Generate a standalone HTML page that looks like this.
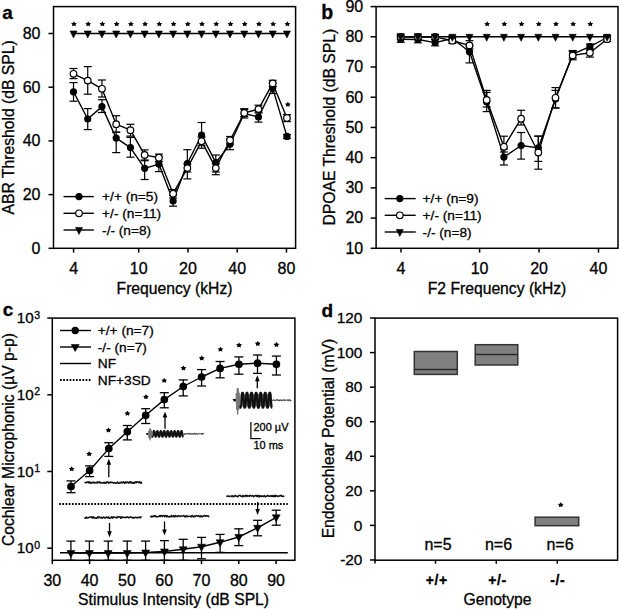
<!DOCTYPE html>
<html><head><meta charset="utf-8"><style>
html,body{margin:0;padding:0;background:#fff;}
svg{display:block;}
text{font-family:"Liberation Sans", sans-serif;fill:#000;stroke:#000;stroke-width:0.3px;}
</style></head><body>
<svg width="619" height="609" viewBox="0 0 619 609" font-family='"Liberation Sans", sans-serif'>
<rect width="619" height="609" fill="#fff"/>
<rect x="53.5" y="6.6" width="242.10000000000002" height="241.70000000000002" fill="none" stroke="#000" stroke-width="1.5"/>
<line x1="48.50" y1="248.30" x2="53.50" y2="248.30" stroke="#000" stroke-width="1.5" />
<text x="40.50" y="253.70" font-size="16" text-anchor="end" font-weight="normal" >0</text>
<line x1="48.50" y1="194.60" x2="53.50" y2="194.60" stroke="#000" stroke-width="1.5" />
<text x="40.50" y="200.00" font-size="16" text-anchor="end" font-weight="normal" >20</text>
<line x1="48.50" y1="140.90" x2="53.50" y2="140.90" stroke="#000" stroke-width="1.5" />
<text x="40.50" y="146.30" font-size="16" text-anchor="end" font-weight="normal" >40</text>
<line x1="48.50" y1="87.20" x2="53.50" y2="87.20" stroke="#000" stroke-width="1.5" />
<text x="40.50" y="92.60" font-size="16" text-anchor="end" font-weight="normal" >60</text>
<line x1="48.50" y1="33.50" x2="53.50" y2="33.50" stroke="#000" stroke-width="1.5" />
<text x="40.50" y="38.90" font-size="16" text-anchor="end" font-weight="normal" >80</text>
<line x1="73.60" y1="248.30" x2="73.60" y2="252.60" stroke="#000" stroke-width="1.5" />
<text x="73.60" y="274.00" font-size="16" text-anchor="middle" font-weight="normal" >4</text>
<line x1="138.70" y1="248.30" x2="138.70" y2="252.60" stroke="#000" stroke-width="1.5" />
<text x="138.70" y="274.00" font-size="16" text-anchor="middle" font-weight="normal" >10</text>
<line x1="187.95" y1="248.30" x2="187.95" y2="252.60" stroke="#000" stroke-width="1.5" />
<text x="187.95" y="274.00" font-size="16" text-anchor="middle" font-weight="normal" >20</text>
<line x1="237.20" y1="248.30" x2="237.20" y2="252.60" stroke="#000" stroke-width="1.5" />
<text x="237.20" y="274.00" font-size="16" text-anchor="middle" font-weight="normal" >40</text>
<line x1="286.45" y1="248.30" x2="286.45" y2="252.60" stroke="#000" stroke-width="1.5" />
<text x="286.45" y="274.00" font-size="16" text-anchor="middle" font-weight="normal" >80</text>
<text x="174.55" y="293.60" font-size="15.7" text-anchor="middle" font-weight="normal" >Frequency (kHz)</text>
<text transform="translate(14,127.4) rotate(-90)" font-size="15.7" text-anchor="middle">ABR Threshold (dB SPL)</text>
<text x="2.30" y="19.00" font-size="19" text-anchor="start" font-weight="bold" >a</text>
<polyline points="73.50,33.50 87.73,33.50 101.96,33.50 116.19,33.50 130.42,33.50 144.65,33.50 158.88,33.50 173.11,33.50 187.34,33.50 201.57,33.50 215.80,33.50 230.03,33.50 244.26,33.50 258.49,33.50 272.72,33.50 286.95,33.50" fill="none" stroke="#000" stroke-width="1.4" stroke-linejoin="round"/>
<polygon points="70.00,30.98 77.00,30.98 73.50,37.98" fill="#000" stroke="#000" stroke-width="0.6" stroke-linejoin="round"/>
<polygon points="73.95,21.35 74.94,22.88 76.85,23.25 75.55,24.57 75.74,26.32 73.95,25.61 72.16,26.32 72.35,24.57 71.05,23.25 72.96,22.88" fill="#000"/>
<polygon points="84.23,30.98 91.23,30.98 87.73,37.98" fill="#000" stroke="#000" stroke-width="0.6" stroke-linejoin="round"/>
<polygon points="88.18,21.35 89.17,22.88 91.08,23.25 89.78,24.57 89.97,26.32 88.18,25.61 86.39,26.32 86.58,24.57 85.28,23.25 87.19,22.88" fill="#000"/>
<polygon points="98.46,30.98 105.46,30.98 101.96,37.98" fill="#000" stroke="#000" stroke-width="0.6" stroke-linejoin="round"/>
<polygon points="102.41,21.35 103.40,22.88 105.31,23.25 104.01,24.57 104.20,26.32 102.41,25.61 100.62,26.32 100.81,24.57 99.51,23.25 101.42,22.88" fill="#000"/>
<polygon points="112.69,30.98 119.69,30.98 116.19,37.98" fill="#000" stroke="#000" stroke-width="0.6" stroke-linejoin="round"/>
<polygon points="116.64,21.35 117.63,22.88 119.54,23.25 118.24,24.57 118.43,26.32 116.64,25.61 114.85,26.32 115.04,24.57 113.74,23.25 115.65,22.88" fill="#000"/>
<polygon points="126.92,30.98 133.92,30.98 130.42,37.98" fill="#000" stroke="#000" stroke-width="0.6" stroke-linejoin="round"/>
<polygon points="130.87,21.35 131.86,22.88 133.77,23.25 132.47,24.57 132.66,26.32 130.87,25.61 129.08,26.32 129.27,24.57 127.97,23.25 129.88,22.88" fill="#000"/>
<polygon points="141.15,30.98 148.15,30.98 144.65,37.98" fill="#000" stroke="#000" stroke-width="0.6" stroke-linejoin="round"/>
<polygon points="145.10,21.35 146.09,22.88 148.00,23.25 146.70,24.57 146.89,26.32 145.10,25.61 143.31,26.32 143.50,24.57 142.20,23.25 144.11,22.88" fill="#000"/>
<polygon points="155.38,30.98 162.38,30.98 158.88,37.98" fill="#000" stroke="#000" stroke-width="0.6" stroke-linejoin="round"/>
<polygon points="159.33,21.35 160.32,22.88 162.23,23.25 160.93,24.57 161.12,26.32 159.33,25.61 157.54,26.32 157.73,24.57 156.43,23.25 158.34,22.88" fill="#000"/>
<polygon points="169.61,30.98 176.61,30.98 173.11,37.98" fill="#000" stroke="#000" stroke-width="0.6" stroke-linejoin="round"/>
<polygon points="173.56,21.35 174.55,22.88 176.46,23.25 175.16,24.57 175.35,26.32 173.56,25.61 171.77,26.32 171.96,24.57 170.66,23.25 172.57,22.88" fill="#000"/>
<polygon points="183.84,30.98 190.84,30.98 187.34,37.98" fill="#000" stroke="#000" stroke-width="0.6" stroke-linejoin="round"/>
<polygon points="187.79,21.35 188.78,22.88 190.69,23.25 189.39,24.57 189.58,26.32 187.79,25.61 186.00,26.32 186.19,24.57 184.89,23.25 186.80,22.88" fill="#000"/>
<polygon points="198.07,30.98 205.07,30.98 201.57,37.98" fill="#000" stroke="#000" stroke-width="0.6" stroke-linejoin="round"/>
<polygon points="202.02,21.35 203.01,22.88 204.92,23.25 203.62,24.57 203.81,26.32 202.02,25.61 200.23,26.32 200.42,24.57 199.12,23.25 201.03,22.88" fill="#000"/>
<polygon points="212.30,30.98 219.30,30.98 215.80,37.98" fill="#000" stroke="#000" stroke-width="0.6" stroke-linejoin="round"/>
<polygon points="216.25,21.35 217.24,22.88 219.15,23.25 217.85,24.57 218.04,26.32 216.25,25.61 214.46,26.32 214.65,24.57 213.35,23.25 215.26,22.88" fill="#000"/>
<polygon points="226.53,30.98 233.53,30.98 230.03,37.98" fill="#000" stroke="#000" stroke-width="0.6" stroke-linejoin="round"/>
<polygon points="230.48,21.35 231.47,22.88 233.38,23.25 232.08,24.57 232.27,26.32 230.48,25.61 228.69,26.32 228.88,24.57 227.58,23.25 229.49,22.88" fill="#000"/>
<polygon points="240.76,30.98 247.76,30.98 244.26,37.98" fill="#000" stroke="#000" stroke-width="0.6" stroke-linejoin="round"/>
<polygon points="244.71,21.35 245.70,22.88 247.61,23.25 246.31,24.57 246.50,26.32 244.71,25.61 242.92,26.32 243.11,24.57 241.81,23.25 243.72,22.88" fill="#000"/>
<polygon points="254.99,30.98 261.99,30.98 258.49,37.98" fill="#000" stroke="#000" stroke-width="0.6" stroke-linejoin="round"/>
<polygon points="258.94,21.35 259.93,22.88 261.84,23.25 260.54,24.57 260.73,26.32 258.94,25.61 257.15,26.32 257.34,24.57 256.04,23.25 257.95,22.88" fill="#000"/>
<polygon points="269.22,30.98 276.22,30.98 272.72,37.98" fill="#000" stroke="#000" stroke-width="0.6" stroke-linejoin="round"/>
<polygon points="273.17,21.35 274.16,22.88 276.07,23.25 274.77,24.57 274.96,26.32 273.17,25.61 271.38,26.32 271.57,24.57 270.27,23.25 272.18,22.88" fill="#000"/>
<polygon points="283.45,30.98 290.45,30.98 286.95,37.98" fill="#000" stroke="#000" stroke-width="0.6" stroke-linejoin="round"/>
<polygon points="287.40,21.35 288.39,22.88 290.30,23.25 289.00,24.57 289.19,26.32 287.40,25.61 285.61,26.32 285.80,24.57 284.50,23.25 286.41,22.88" fill="#000"/>
<line x1="73.50" y1="82.60" x2="73.50" y2="101.20" stroke="#000" stroke-width="1.2" />
<line x1="69.50" y1="82.60" x2="77.50" y2="82.60" stroke="#000" stroke-width="1.2" />
<line x1="69.50" y1="101.20" x2="77.50" y2="101.20" stroke="#000" stroke-width="1.2" />
<line x1="87.73" y1="108.60" x2="87.73" y2="129.60" stroke="#000" stroke-width="1.2" />
<line x1="83.73" y1="108.60" x2="91.73" y2="108.60" stroke="#000" stroke-width="1.2" />
<line x1="83.73" y1="129.60" x2="91.73" y2="129.60" stroke="#000" stroke-width="1.2" />
<line x1="101.96" y1="99.70" x2="101.96" y2="112.50" stroke="#000" stroke-width="1.2" />
<line x1="97.96" y1="99.70" x2="105.96" y2="99.70" stroke="#000" stroke-width="1.2" />
<line x1="97.96" y1="112.50" x2="105.96" y2="112.50" stroke="#000" stroke-width="1.2" />
<line x1="116.19" y1="132.20" x2="116.19" y2="152.60" stroke="#000" stroke-width="1.2" />
<line x1="112.19" y1="132.20" x2="120.19" y2="132.20" stroke="#000" stroke-width="1.2" />
<line x1="112.19" y1="152.60" x2="120.19" y2="152.60" stroke="#000" stroke-width="1.2" />
<line x1="130.42" y1="137.40" x2="130.42" y2="157.20" stroke="#000" stroke-width="1.2" />
<line x1="126.42" y1="137.40" x2="134.42" y2="137.40" stroke="#000" stroke-width="1.2" />
<line x1="126.42" y1="157.20" x2="134.42" y2="157.20" stroke="#000" stroke-width="1.2" />
<line x1="144.65" y1="160.70" x2="144.65" y2="179.50" stroke="#000" stroke-width="1.2" />
<line x1="140.65" y1="160.70" x2="148.65" y2="160.70" stroke="#000" stroke-width="1.2" />
<line x1="140.65" y1="179.50" x2="148.65" y2="179.50" stroke="#000" stroke-width="1.2" />
<line x1="158.88" y1="156.50" x2="158.88" y2="171.60" stroke="#000" stroke-width="1.2" />
<line x1="154.88" y1="156.50" x2="162.88" y2="156.50" stroke="#000" stroke-width="1.2" />
<line x1="154.88" y1="171.60" x2="162.88" y2="171.60" stroke="#000" stroke-width="1.2" />
<line x1="173.11" y1="195.50" x2="173.11" y2="206.20" stroke="#000" stroke-width="1.2" />
<line x1="169.11" y1="195.50" x2="177.11" y2="195.50" stroke="#000" stroke-width="1.2" />
<line x1="169.11" y1="206.20" x2="177.11" y2="206.20" stroke="#000" stroke-width="1.2" />
<line x1="187.34" y1="149.70" x2="187.34" y2="178.90" stroke="#000" stroke-width="1.2" />
<line x1="183.34" y1="149.70" x2="191.34" y2="149.70" stroke="#000" stroke-width="1.2" />
<line x1="183.34" y1="178.90" x2="191.34" y2="178.90" stroke="#000" stroke-width="1.2" />
<line x1="201.57" y1="122.50" x2="201.57" y2="148.20" stroke="#000" stroke-width="1.2" />
<line x1="197.57" y1="122.50" x2="205.57" y2="122.50" stroke="#000" stroke-width="1.2" />
<line x1="197.57" y1="148.20" x2="205.57" y2="148.20" stroke="#000" stroke-width="1.2" />
<line x1="215.80" y1="155.00" x2="215.80" y2="174.70" stroke="#000" stroke-width="1.2" />
<line x1="211.80" y1="155.00" x2="219.80" y2="155.00" stroke="#000" stroke-width="1.2" />
<line x1="211.80" y1="174.70" x2="219.80" y2="174.70" stroke="#000" stroke-width="1.2" />
<line x1="230.03" y1="139.00" x2="230.03" y2="149.70" stroke="#000" stroke-width="1.2" />
<line x1="226.03" y1="139.00" x2="234.03" y2="139.00" stroke="#000" stroke-width="1.2" />
<line x1="226.03" y1="149.70" x2="234.03" y2="149.70" stroke="#000" stroke-width="1.2" />
<line x1="244.26" y1="108.70" x2="244.26" y2="118.00" stroke="#000" stroke-width="1.2" />
<line x1="240.26" y1="108.70" x2="248.26" y2="108.70" stroke="#000" stroke-width="1.2" />
<line x1="240.26" y1="118.00" x2="248.26" y2="118.00" stroke="#000" stroke-width="1.2" />
<line x1="258.49" y1="112.00" x2="258.49" y2="122.10" stroke="#000" stroke-width="1.2" />
<line x1="254.49" y1="112.00" x2="262.49" y2="112.00" stroke="#000" stroke-width="1.2" />
<line x1="254.49" y1="122.10" x2="262.49" y2="122.10" stroke="#000" stroke-width="1.2" />
<line x1="272.72" y1="83.00" x2="272.72" y2="93.50" stroke="#000" stroke-width="1.2" />
<line x1="268.72" y1="83.00" x2="276.72" y2="83.00" stroke="#000" stroke-width="1.2" />
<line x1="268.72" y1="93.50" x2="276.72" y2="93.50" stroke="#000" stroke-width="1.2" />
<line x1="286.95" y1="134.50" x2="286.95" y2="138.50" stroke="#000" stroke-width="1.2" />
<line x1="282.95" y1="134.50" x2="290.95" y2="134.50" stroke="#000" stroke-width="1.2" />
<line x1="282.95" y1="138.50" x2="290.95" y2="138.50" stroke="#000" stroke-width="1.2" />
<line x1="73.50" y1="68.50" x2="73.50" y2="78.60" stroke="#000" stroke-width="1.2" />
<line x1="69.50" y1="68.50" x2="77.50" y2="68.50" stroke="#000" stroke-width="1.2" />
<line x1="69.50" y1="78.60" x2="77.50" y2="78.60" stroke="#000" stroke-width="1.2" />
<line x1="87.73" y1="66.60" x2="87.73" y2="94.20" stroke="#000" stroke-width="1.2" />
<line x1="83.73" y1="66.60" x2="91.73" y2="66.60" stroke="#000" stroke-width="1.2" />
<line x1="83.73" y1="94.20" x2="91.73" y2="94.20" stroke="#000" stroke-width="1.2" />
<line x1="101.96" y1="80.00" x2="101.96" y2="97.00" stroke="#000" stroke-width="1.2" />
<line x1="97.96" y1="80.00" x2="105.96" y2="80.00" stroke="#000" stroke-width="1.2" />
<line x1="97.96" y1="97.00" x2="105.96" y2="97.00" stroke="#000" stroke-width="1.2" />
<line x1="116.19" y1="115.70" x2="116.19" y2="132.20" stroke="#000" stroke-width="1.2" />
<line x1="112.19" y1="115.70" x2="120.19" y2="115.70" stroke="#000" stroke-width="1.2" />
<line x1="112.19" y1="132.20" x2="120.19" y2="132.20" stroke="#000" stroke-width="1.2" />
<line x1="130.42" y1="124.30" x2="130.42" y2="136.10" stroke="#000" stroke-width="1.2" />
<line x1="126.42" y1="124.30" x2="134.42" y2="124.30" stroke="#000" stroke-width="1.2" />
<line x1="126.42" y1="136.10" x2="134.42" y2="136.10" stroke="#000" stroke-width="1.2" />
<line x1="144.65" y1="149.90" x2="144.65" y2="160.00" stroke="#000" stroke-width="1.2" />
<line x1="140.65" y1="149.90" x2="148.65" y2="149.90" stroke="#000" stroke-width="1.2" />
<line x1="140.65" y1="160.00" x2="148.65" y2="160.00" stroke="#000" stroke-width="1.2" />
<line x1="158.88" y1="154.10" x2="158.88" y2="161.50" stroke="#000" stroke-width="1.2" />
<line x1="154.88" y1="154.10" x2="162.88" y2="154.10" stroke="#000" stroke-width="1.2" />
<line x1="154.88" y1="161.50" x2="162.88" y2="161.50" stroke="#000" stroke-width="1.2" />
<line x1="173.11" y1="189.50" x2="173.11" y2="198.00" stroke="#000" stroke-width="1.2" />
<line x1="169.11" y1="189.50" x2="177.11" y2="189.50" stroke="#000" stroke-width="1.2" />
<line x1="169.11" y1="198.00" x2="177.11" y2="198.00" stroke="#000" stroke-width="1.2" />
<line x1="187.34" y1="164.00" x2="187.34" y2="172.00" stroke="#000" stroke-width="1.2" />
<line x1="183.34" y1="164.00" x2="191.34" y2="164.00" stroke="#000" stroke-width="1.2" />
<line x1="183.34" y1="172.00" x2="191.34" y2="172.00" stroke="#000" stroke-width="1.2" />
<line x1="201.57" y1="137.00" x2="201.57" y2="145.50" stroke="#000" stroke-width="1.2" />
<line x1="197.57" y1="137.00" x2="205.57" y2="137.00" stroke="#000" stroke-width="1.2" />
<line x1="197.57" y1="145.50" x2="205.57" y2="145.50" stroke="#000" stroke-width="1.2" />
<line x1="215.80" y1="164.00" x2="215.80" y2="172.00" stroke="#000" stroke-width="1.2" />
<line x1="211.80" y1="164.00" x2="219.80" y2="164.00" stroke="#000" stroke-width="1.2" />
<line x1="211.80" y1="172.00" x2="219.80" y2="172.00" stroke="#000" stroke-width="1.2" />
<line x1="230.03" y1="136.50" x2="230.03" y2="144.00" stroke="#000" stroke-width="1.2" />
<line x1="226.03" y1="136.50" x2="234.03" y2="136.50" stroke="#000" stroke-width="1.2" />
<line x1="226.03" y1="144.00" x2="234.03" y2="144.00" stroke="#000" stroke-width="1.2" />
<line x1="244.26" y1="109.50" x2="244.26" y2="116.50" stroke="#000" stroke-width="1.2" />
<line x1="240.26" y1="109.50" x2="248.26" y2="109.50" stroke="#000" stroke-width="1.2" />
<line x1="240.26" y1="116.50" x2="248.26" y2="116.50" stroke="#000" stroke-width="1.2" />
<line x1="258.49" y1="105.20" x2="258.49" y2="113.00" stroke="#000" stroke-width="1.2" />
<line x1="254.49" y1="105.20" x2="262.49" y2="105.20" stroke="#000" stroke-width="1.2" />
<line x1="254.49" y1="113.00" x2="262.49" y2="113.00" stroke="#000" stroke-width="1.2" />
<line x1="272.72" y1="80.30" x2="272.72" y2="86.50" stroke="#000" stroke-width="1.2" />
<line x1="268.72" y1="80.30" x2="276.72" y2="80.30" stroke="#000" stroke-width="1.2" />
<line x1="268.72" y1="86.50" x2="276.72" y2="86.50" stroke="#000" stroke-width="1.2" />
<line x1="286.95" y1="114.60" x2="286.95" y2="121.60" stroke="#000" stroke-width="1.2" />
<line x1="282.95" y1="114.60" x2="290.95" y2="114.60" stroke="#000" stroke-width="1.2" />
<line x1="282.95" y1="121.60" x2="290.95" y2="121.60" stroke="#000" stroke-width="1.2" />
<polyline points="73.50,91.80 87.73,119.00 101.96,106.60 116.19,138.10 130.42,147.60 144.65,168.30 158.88,164.10 173.11,201.00 187.34,163.50 201.57,135.00 215.80,162.60 230.03,144.20 244.26,113.50 258.49,117.00 272.72,88.10 286.95,136.40" fill="none" stroke="#000" stroke-width="1.4" stroke-linejoin="round"/>
<polyline points="73.50,73.80 87.73,80.60 101.96,88.80 116.19,124.20 130.42,130.20 144.65,154.90 158.88,157.70 173.11,193.70 187.34,168.10 201.57,141.20 215.80,168.10 230.03,140.30 244.26,113.00 258.49,109.10 272.72,83.40 286.95,118.00" fill="none" stroke="#000" stroke-width="1.4" stroke-linejoin="round"/>
<circle cx="73.50" cy="91.80" r="3.0" fill="#000" stroke="#000" stroke-width="1.2"/>
<circle cx="87.73" cy="119.00" r="3.0" fill="#000" stroke="#000" stroke-width="1.2"/>
<circle cx="101.96" cy="106.60" r="3.0" fill="#000" stroke="#000" stroke-width="1.2"/>
<circle cx="116.19" cy="138.10" r="3.0" fill="#000" stroke="#000" stroke-width="1.2"/>
<circle cx="130.42" cy="147.60" r="3.0" fill="#000" stroke="#000" stroke-width="1.2"/>
<circle cx="144.65" cy="168.30" r="3.0" fill="#000" stroke="#000" stroke-width="1.2"/>
<circle cx="158.88" cy="164.10" r="3.0" fill="#000" stroke="#000" stroke-width="1.2"/>
<circle cx="173.11" cy="201.00" r="3.0" fill="#000" stroke="#000" stroke-width="1.2"/>
<circle cx="187.34" cy="163.50" r="3.0" fill="#000" stroke="#000" stroke-width="1.2"/>
<circle cx="201.57" cy="135.00" r="3.0" fill="#000" stroke="#000" stroke-width="1.2"/>
<circle cx="215.80" cy="162.60" r="3.0" fill="#000" stroke="#000" stroke-width="1.2"/>
<circle cx="230.03" cy="144.20" r="3.0" fill="#000" stroke="#000" stroke-width="1.2"/>
<circle cx="244.26" cy="113.50" r="3.0" fill="#000" stroke="#000" stroke-width="1.2"/>
<circle cx="258.49" cy="117.00" r="3.0" fill="#000" stroke="#000" stroke-width="1.2"/>
<circle cx="272.72" cy="88.10" r="3.0" fill="#000" stroke="#000" stroke-width="1.2"/>
<circle cx="286.95" cy="136.40" r="3.0" fill="#000" stroke="#000" stroke-width="1.2"/>
<circle cx="73.50" cy="73.80" r="3.3" fill="#fff" stroke="#000" stroke-width="1.2"/>
<circle cx="87.73" cy="80.60" r="3.3" fill="#fff" stroke="#000" stroke-width="1.2"/>
<circle cx="101.96" cy="88.80" r="3.3" fill="#fff" stroke="#000" stroke-width="1.2"/>
<circle cx="116.19" cy="124.20" r="3.3" fill="#fff" stroke="#000" stroke-width="1.2"/>
<circle cx="130.42" cy="130.20" r="3.3" fill="#fff" stroke="#000" stroke-width="1.2"/>
<circle cx="144.65" cy="154.90" r="3.3" fill="#fff" stroke="#000" stroke-width="1.2"/>
<circle cx="158.88" cy="157.70" r="3.3" fill="#fff" stroke="#000" stroke-width="1.2"/>
<circle cx="173.11" cy="193.70" r="3.3" fill="#fff" stroke="#000" stroke-width="1.2"/>
<circle cx="187.34" cy="168.10" r="3.3" fill="#fff" stroke="#000" stroke-width="1.2"/>
<circle cx="201.57" cy="141.20" r="3.3" fill="#fff" stroke="#000" stroke-width="1.2"/>
<circle cx="215.80" cy="168.10" r="3.3" fill="#fff" stroke="#000" stroke-width="1.2"/>
<circle cx="230.03" cy="140.30" r="3.3" fill="#fff" stroke="#000" stroke-width="1.2"/>
<circle cx="244.26" cy="113.00" r="3.3" fill="#fff" stroke="#000" stroke-width="1.2"/>
<circle cx="258.49" cy="109.10" r="3.3" fill="#fff" stroke="#000" stroke-width="1.2"/>
<circle cx="272.72" cy="83.40" r="3.3" fill="#fff" stroke="#000" stroke-width="1.2"/>
<circle cx="286.95" cy="118.00" r="3.3" fill="#fff" stroke="#000" stroke-width="1.2"/>
<polygon points="287.85,101.75 288.84,103.28 290.75,103.65 289.45,104.97 289.64,106.72 287.85,106.01 286.06,106.72 286.25,104.97 284.95,103.65 286.86,103.28" fill="#000"/>
<line x1="63.50" y1="196.60" x2="93.80" y2="196.60" stroke="#000" stroke-width="1.4" />
<circle cx="79.00" cy="196.60" r="3.0" fill="#000" stroke="#000" stroke-width="1.2"/>
<text x="102.10" y="201.30" font-size="13.7" text-anchor="start" font-weight="normal" >+/+ (n=5)</text>
<line x1="63.50" y1="213.30" x2="93.80" y2="213.30" stroke="#000" stroke-width="1.4" />
<circle cx="79.00" cy="213.30" r="3.3" fill="#fff" stroke="#000" stroke-width="1.2"/>
<text x="102.10" y="218.00" font-size="13.7" text-anchor="start" font-weight="normal" >+/- (n=11)</text>
<line x1="63.50" y1="230.00" x2="93.80" y2="230.00" stroke="#000" stroke-width="1.4" />
<polygon points="75.50,227.48 82.50,227.48 79.00,234.48" fill="#000" stroke="#000" stroke-width="0.6" stroke-linejoin="round"/>
<text x="102.10" y="234.70" font-size="13.7" text-anchor="start" font-weight="normal" >-/- (n=8)</text>
<rect x="376.1" y="6.6" width="241.89999999999998" height="241.70000000000002" fill="none" stroke="#000" stroke-width="1.5"/>
<line x1="370.60" y1="248.30" x2="376.10" y2="248.30" stroke="#000" stroke-width="1.5" />
<text x="363.20" y="253.70" font-size="16" text-anchor="end" font-weight="normal" >10</text>
<line x1="370.60" y1="218.09" x2="376.10" y2="218.09" stroke="#000" stroke-width="1.5" />
<text x="363.20" y="223.49" font-size="16" text-anchor="end" font-weight="normal" >20</text>
<line x1="370.60" y1="187.88" x2="376.10" y2="187.88" stroke="#000" stroke-width="1.5" />
<text x="363.20" y="193.28" font-size="16" text-anchor="end" font-weight="normal" >30</text>
<line x1="370.60" y1="157.66" x2="376.10" y2="157.66" stroke="#000" stroke-width="1.5" />
<text x="363.20" y="163.06" font-size="16" text-anchor="end" font-weight="normal" >40</text>
<line x1="370.60" y1="127.45" x2="376.10" y2="127.45" stroke="#000" stroke-width="1.5" />
<text x="363.20" y="132.85" font-size="16" text-anchor="end" font-weight="normal" >50</text>
<line x1="370.60" y1="97.24" x2="376.10" y2="97.24" stroke="#000" stroke-width="1.5" />
<text x="363.20" y="102.64" font-size="16" text-anchor="end" font-weight="normal" >60</text>
<line x1="370.60" y1="67.02" x2="376.10" y2="67.02" stroke="#000" stroke-width="1.5" />
<text x="363.20" y="72.42" font-size="16" text-anchor="end" font-weight="normal" >70</text>
<line x1="370.60" y1="36.81" x2="376.10" y2="36.81" stroke="#000" stroke-width="1.5" />
<text x="363.20" y="42.21" font-size="16" text-anchor="end" font-weight="normal" >80</text>
<line x1="370.60" y1="6.60" x2="376.10" y2="6.60" stroke="#000" stroke-width="1.5" />
<text x="363.20" y="12.00" font-size="16" text-anchor="end" font-weight="normal" >90</text>
<line x1="401.00" y1="248.30" x2="401.00" y2="252.60" stroke="#000" stroke-width="1.5" />
<text x="401.00" y="274.00" font-size="16" text-anchor="middle" font-weight="normal" >4</text>
<line x1="479.59" y1="248.30" x2="479.59" y2="252.60" stroke="#000" stroke-width="1.5" />
<text x="479.59" y="274.00" font-size="16" text-anchor="middle" font-weight="normal" >10</text>
<line x1="539.05" y1="248.30" x2="539.05" y2="252.60" stroke="#000" stroke-width="1.5" />
<text x="539.05" y="274.00" font-size="16" text-anchor="middle" font-weight="normal" >20</text>
<line x1="598.50" y1="248.30" x2="598.50" y2="252.60" stroke="#000" stroke-width="1.5" />
<text x="598.50" y="274.00" font-size="16" text-anchor="middle" font-weight="normal" >40</text>
<text x="497.05" y="293.60" font-size="15.7" text-anchor="middle" font-weight="normal" >F2 Frequency (kHz)</text>
<text transform="translate(334.8,127.2) rotate(-90)" font-size="15.7" text-anchor="middle">DPOAE Threshold (dB SPL)</text>
<text x="321.30" y="18.50" font-size="19.5" text-anchor="start" font-weight="bold" >b</text>
<polygon points="487.15,21.35 488.14,22.88 490.05,23.25 488.75,24.57 488.94,26.32 487.15,25.61 485.36,26.32 485.55,24.57 484.25,23.25 486.16,22.88" fill="#000"/>
<polygon points="504.35,21.35 505.34,22.88 507.25,23.25 505.95,24.57 506.14,26.32 504.35,25.61 502.56,26.32 502.75,24.57 501.45,23.25 503.36,22.88" fill="#000"/>
<polygon points="521.55,21.35 522.54,22.88 524.45,23.25 523.15,24.57 523.34,26.32 521.55,25.61 519.76,26.32 519.95,24.57 518.65,23.25 520.56,22.88" fill="#000"/>
<polygon points="538.75,21.35 539.74,22.88 541.65,23.25 540.35,24.57 540.54,26.32 538.75,25.61 536.96,26.32 537.15,24.57 535.85,23.25 537.76,22.88" fill="#000"/>
<polygon points="555.95,21.35 556.94,22.88 558.85,23.25 557.55,24.57 557.74,26.32 555.95,25.61 554.16,26.32 554.35,24.57 553.05,23.25 554.96,22.88" fill="#000"/>
<polygon points="573.15,21.35 574.14,22.88 576.05,23.25 574.75,24.57 574.94,26.32 573.15,25.61 571.36,26.32 571.55,24.57 570.25,23.25 572.16,22.88" fill="#000"/>
<polygon points="590.35,21.35 591.34,22.88 593.25,23.25 591.95,24.57 592.14,26.32 590.35,25.61 588.56,26.32 588.75,24.57 587.45,23.25 589.36,22.88" fill="#000"/>
<line x1="400.70" y1="36.00" x2="400.70" y2="42.30" stroke="#000" stroke-width="1.2" />
<line x1="396.70" y1="36.00" x2="404.70" y2="36.00" stroke="#000" stroke-width="1.2" />
<line x1="396.70" y1="42.30" x2="404.70" y2="42.30" stroke="#000" stroke-width="1.2" />
<line x1="417.90" y1="36.50" x2="417.90" y2="42.80" stroke="#000" stroke-width="1.2" />
<line x1="413.90" y1="36.50" x2="421.90" y2="36.50" stroke="#000" stroke-width="1.2" />
<line x1="413.90" y1="42.80" x2="421.90" y2="42.80" stroke="#000" stroke-width="1.2" />
<line x1="435.10" y1="39.80" x2="435.10" y2="45.80" stroke="#000" stroke-width="1.2" />
<line x1="431.10" y1="39.80" x2="439.10" y2="39.80" stroke="#000" stroke-width="1.2" />
<line x1="431.10" y1="45.80" x2="439.10" y2="45.80" stroke="#000" stroke-width="1.2" />
<line x1="452.30" y1="36.00" x2="452.30" y2="41.00" stroke="#000" stroke-width="1.2" />
<line x1="448.30" y1="36.00" x2="456.30" y2="36.00" stroke="#000" stroke-width="1.2" />
<line x1="448.30" y1="41.00" x2="456.30" y2="41.00" stroke="#000" stroke-width="1.2" />
<line x1="469.50" y1="46.00" x2="469.50" y2="62.90" stroke="#000" stroke-width="1.2" />
<line x1="465.50" y1="46.00" x2="473.50" y2="46.00" stroke="#000" stroke-width="1.2" />
<line x1="465.50" y1="62.90" x2="473.50" y2="62.90" stroke="#000" stroke-width="1.2" />
<line x1="486.70" y1="90.40" x2="486.70" y2="111.60" stroke="#000" stroke-width="1.2" />
<line x1="482.70" y1="90.40" x2="490.70" y2="90.40" stroke="#000" stroke-width="1.2" />
<line x1="482.70" y1="111.60" x2="490.70" y2="111.60" stroke="#000" stroke-width="1.2" />
<line x1="503.90" y1="149.00" x2="503.90" y2="165.00" stroke="#000" stroke-width="1.2" />
<line x1="499.90" y1="149.00" x2="507.90" y2="149.00" stroke="#000" stroke-width="1.2" />
<line x1="499.90" y1="165.00" x2="507.90" y2="165.00" stroke="#000" stroke-width="1.2" />
<line x1="521.10" y1="132.50" x2="521.10" y2="159.10" stroke="#000" stroke-width="1.2" />
<line x1="517.10" y1="132.50" x2="525.10" y2="132.50" stroke="#000" stroke-width="1.2" />
<line x1="517.10" y1="159.10" x2="525.10" y2="159.10" stroke="#000" stroke-width="1.2" />
<line x1="538.30" y1="136.30" x2="538.30" y2="161.40" stroke="#000" stroke-width="1.2" />
<line x1="534.30" y1="136.30" x2="542.30" y2="136.30" stroke="#000" stroke-width="1.2" />
<line x1="534.30" y1="161.40" x2="542.30" y2="161.40" stroke="#000" stroke-width="1.2" />
<line x1="555.50" y1="90.40" x2="555.50" y2="108.00" stroke="#000" stroke-width="1.2" />
<line x1="551.50" y1="90.40" x2="559.50" y2="90.40" stroke="#000" stroke-width="1.2" />
<line x1="551.50" y1="108.00" x2="559.50" y2="108.00" stroke="#000" stroke-width="1.2" />
<line x1="572.70" y1="50.50" x2="572.70" y2="58.00" stroke="#000" stroke-width="1.2" />
<line x1="568.70" y1="50.50" x2="576.70" y2="50.50" stroke="#000" stroke-width="1.2" />
<line x1="568.70" y1="58.00" x2="576.70" y2="58.00" stroke="#000" stroke-width="1.2" />
<line x1="589.90" y1="44.00" x2="589.90" y2="50.00" stroke="#000" stroke-width="1.2" />
<line x1="585.90" y1="44.00" x2="593.90" y2="44.00" stroke="#000" stroke-width="1.2" />
<line x1="585.90" y1="50.00" x2="593.90" y2="50.00" stroke="#000" stroke-width="1.2" />
<line x1="607.10" y1="35.50" x2="607.10" y2="39.50" stroke="#000" stroke-width="1.2" />
<line x1="603.10" y1="35.50" x2="611.10" y2="35.50" stroke="#000" stroke-width="1.2" />
<line x1="603.10" y1="39.50" x2="611.10" y2="39.50" stroke="#000" stroke-width="1.2" />
<line x1="400.70" y1="34.00" x2="400.70" y2="39.00" stroke="#000" stroke-width="1.2" />
<line x1="396.70" y1="34.00" x2="404.70" y2="34.00" stroke="#000" stroke-width="1.2" />
<line x1="396.70" y1="39.00" x2="404.70" y2="39.00" stroke="#000" stroke-width="1.2" />
<line x1="417.90" y1="34.00" x2="417.90" y2="39.00" stroke="#000" stroke-width="1.2" />
<line x1="413.90" y1="34.00" x2="421.90" y2="34.00" stroke="#000" stroke-width="1.2" />
<line x1="413.90" y1="39.00" x2="421.90" y2="39.00" stroke="#000" stroke-width="1.2" />
<line x1="435.10" y1="34.50" x2="435.10" y2="39.50" stroke="#000" stroke-width="1.2" />
<line x1="431.10" y1="34.50" x2="439.10" y2="34.50" stroke="#000" stroke-width="1.2" />
<line x1="431.10" y1="39.50" x2="439.10" y2="39.50" stroke="#000" stroke-width="1.2" />
<line x1="452.30" y1="38.00" x2="452.30" y2="43.50" stroke="#000" stroke-width="1.2" />
<line x1="448.30" y1="38.00" x2="456.30" y2="38.00" stroke="#000" stroke-width="1.2" />
<line x1="448.30" y1="43.50" x2="456.30" y2="43.50" stroke="#000" stroke-width="1.2" />
<line x1="469.50" y1="40.70" x2="469.50" y2="49.00" stroke="#000" stroke-width="1.2" />
<line x1="465.50" y1="40.70" x2="473.50" y2="40.70" stroke="#000" stroke-width="1.2" />
<line x1="465.50" y1="49.00" x2="473.50" y2="49.00" stroke="#000" stroke-width="1.2" />
<line x1="486.70" y1="92.40" x2="486.70" y2="107.00" stroke="#000" stroke-width="1.2" />
<line x1="482.70" y1="92.40" x2="490.70" y2="92.40" stroke="#000" stroke-width="1.2" />
<line x1="482.70" y1="107.00" x2="490.70" y2="107.00" stroke="#000" stroke-width="1.2" />
<line x1="503.90" y1="136.20" x2="503.90" y2="152.00" stroke="#000" stroke-width="1.2" />
<line x1="499.90" y1="136.20" x2="507.90" y2="136.20" stroke="#000" stroke-width="1.2" />
<line x1="499.90" y1="152.00" x2="507.90" y2="152.00" stroke="#000" stroke-width="1.2" />
<line x1="521.10" y1="110.30" x2="521.10" y2="125.00" stroke="#000" stroke-width="1.2" />
<line x1="517.10" y1="110.30" x2="525.10" y2="110.30" stroke="#000" stroke-width="1.2" />
<line x1="517.10" y1="125.00" x2="525.10" y2="125.00" stroke="#000" stroke-width="1.2" />
<line x1="538.30" y1="136.00" x2="538.30" y2="169.20" stroke="#000" stroke-width="1.2" />
<line x1="534.30" y1="136.00" x2="542.30" y2="136.00" stroke="#000" stroke-width="1.2" />
<line x1="534.30" y1="169.20" x2="542.30" y2="169.20" stroke="#000" stroke-width="1.2" />
<line x1="555.50" y1="87.60" x2="555.50" y2="108.00" stroke="#000" stroke-width="1.2" />
<line x1="551.50" y1="87.60" x2="559.50" y2="87.60" stroke="#000" stroke-width="1.2" />
<line x1="551.50" y1="108.00" x2="559.50" y2="108.00" stroke="#000" stroke-width="1.2" />
<line x1="572.70" y1="51.30" x2="572.70" y2="59.80" stroke="#000" stroke-width="1.2" />
<line x1="568.70" y1="51.30" x2="576.70" y2="51.30" stroke="#000" stroke-width="1.2" />
<line x1="568.70" y1="59.80" x2="576.70" y2="59.80" stroke="#000" stroke-width="1.2" />
<line x1="589.90" y1="49.00" x2="589.90" y2="57.10" stroke="#000" stroke-width="1.2" />
<line x1="585.90" y1="49.00" x2="593.90" y2="49.00" stroke="#000" stroke-width="1.2" />
<line x1="585.90" y1="57.10" x2="593.90" y2="57.10" stroke="#000" stroke-width="1.2" />
<line x1="607.10" y1="37.00" x2="607.10" y2="41.50" stroke="#000" stroke-width="1.2" />
<line x1="603.10" y1="37.00" x2="611.10" y2="37.00" stroke="#000" stroke-width="1.2" />
<line x1="603.10" y1="41.50" x2="611.10" y2="41.50" stroke="#000" stroke-width="1.2" />
<polyline points="400.70,39.20 417.90,39.50 435.10,42.60 452.30,38.50 469.50,51.80 486.70,102.00 503.90,157.10 521.10,145.50 538.30,147.90 555.50,99.00 572.70,54.20 589.90,46.60 607.10,37.50" fill="none" stroke="#000" stroke-width="1.4" stroke-linejoin="round"/>
<polyline points="400.70,37.00 417.90,37.00 435.10,36.90 452.30,40.70 469.50,45.40 486.70,100.00 503.90,146.80 521.10,118.70 538.30,152.50 555.50,97.80 572.70,55.40 589.90,52.80 607.10,39.20" fill="none" stroke="#000" stroke-width="1.4" stroke-linejoin="round"/>
<polyline points="400.70,36.81 417.90,36.81 435.10,36.81 452.30,36.81 469.50,36.81 486.70,36.81 503.90,36.81 521.10,36.81 538.30,36.81 555.50,36.81 572.70,36.81 589.90,36.81 607.10,36.81" fill="none" stroke="#000" stroke-width="1.4" stroke-linejoin="round"/>
<circle cx="400.70" cy="39.20" r="3.0" fill="#000" stroke="#000" stroke-width="1.2"/>
<circle cx="417.90" cy="39.50" r="3.0" fill="#000" stroke="#000" stroke-width="1.2"/>
<circle cx="435.10" cy="42.60" r="3.0" fill="#000" stroke="#000" stroke-width="1.2"/>
<circle cx="452.30" cy="38.50" r="3.0" fill="#000" stroke="#000" stroke-width="1.2"/>
<circle cx="469.50" cy="51.80" r="3.0" fill="#000" stroke="#000" stroke-width="1.2"/>
<circle cx="486.70" cy="102.00" r="3.0" fill="#000" stroke="#000" stroke-width="1.2"/>
<circle cx="503.90" cy="157.10" r="3.0" fill="#000" stroke="#000" stroke-width="1.2"/>
<circle cx="521.10" cy="145.50" r="3.0" fill="#000" stroke="#000" stroke-width="1.2"/>
<circle cx="538.30" cy="147.90" r="3.0" fill="#000" stroke="#000" stroke-width="1.2"/>
<circle cx="555.50" cy="99.00" r="3.0" fill="#000" stroke="#000" stroke-width="1.2"/>
<circle cx="572.70" cy="54.20" r="3.0" fill="#000" stroke="#000" stroke-width="1.2"/>
<circle cx="589.90" cy="46.60" r="3.0" fill="#000" stroke="#000" stroke-width="1.2"/>
<circle cx="607.10" cy="37.50" r="3.0" fill="#000" stroke="#000" stroke-width="1.2"/>
<circle cx="400.70" cy="37.00" r="3.3" fill="#fff" stroke="#000" stroke-width="1.2"/>
<circle cx="417.90" cy="37.00" r="3.3" fill="#fff" stroke="#000" stroke-width="1.2"/>
<circle cx="435.10" cy="36.90" r="3.3" fill="#fff" stroke="#000" stroke-width="1.2"/>
<circle cx="452.30" cy="40.70" r="3.3" fill="#fff" stroke="#000" stroke-width="1.2"/>
<circle cx="469.50" cy="45.40" r="3.3" fill="#fff" stroke="#000" stroke-width="1.2"/>
<circle cx="486.70" cy="100.00" r="3.3" fill="#fff" stroke="#000" stroke-width="1.2"/>
<circle cx="503.90" cy="146.80" r="3.3" fill="#fff" stroke="#000" stroke-width="1.2"/>
<circle cx="521.10" cy="118.70" r="3.3" fill="#fff" stroke="#000" stroke-width="1.2"/>
<circle cx="538.30" cy="152.50" r="3.3" fill="#fff" stroke="#000" stroke-width="1.2"/>
<circle cx="555.50" cy="97.80" r="3.3" fill="#fff" stroke="#000" stroke-width="1.2"/>
<circle cx="572.70" cy="55.40" r="3.3" fill="#fff" stroke="#000" stroke-width="1.2"/>
<circle cx="589.90" cy="52.80" r="3.3" fill="#fff" stroke="#000" stroke-width="1.2"/>
<circle cx="607.10" cy="39.20" r="3.3" fill="#fff" stroke="#000" stroke-width="1.2"/>
<polygon points="397.20,34.29 404.20,34.29 400.70,41.29" fill="#000" stroke="#000" stroke-width="0.6" stroke-linejoin="round"/>
<polygon points="414.40,34.29 421.40,34.29 417.90,41.29" fill="#000" stroke="#000" stroke-width="0.6" stroke-linejoin="round"/>
<polygon points="431.60,34.29 438.60,34.29 435.10,41.29" fill="#000" stroke="#000" stroke-width="0.6" stroke-linejoin="round"/>
<polygon points="448.80,34.29 455.80,34.29 452.30,41.29" fill="#000" stroke="#000" stroke-width="0.6" stroke-linejoin="round"/>
<polygon points="466.00,34.29 473.00,34.29 469.50,41.29" fill="#000" stroke="#000" stroke-width="0.6" stroke-linejoin="round"/>
<polygon points="483.20,34.29 490.20,34.29 486.70,41.29" fill="#000" stroke="#000" stroke-width="0.6" stroke-linejoin="round"/>
<polygon points="500.40,34.29 507.40,34.29 503.90,41.29" fill="#000" stroke="#000" stroke-width="0.6" stroke-linejoin="round"/>
<polygon points="517.60,34.29 524.60,34.29 521.10,41.29" fill="#000" stroke="#000" stroke-width="0.6" stroke-linejoin="round"/>
<polygon points="534.80,34.29 541.80,34.29 538.30,41.29" fill="#000" stroke="#000" stroke-width="0.6" stroke-linejoin="round"/>
<polygon points="552.00,34.29 559.00,34.29 555.50,41.29" fill="#000" stroke="#000" stroke-width="0.6" stroke-linejoin="round"/>
<polygon points="569.20,34.29 576.20,34.29 572.70,41.29" fill="#000" stroke="#000" stroke-width="0.6" stroke-linejoin="round"/>
<polygon points="586.40,34.29 593.40,34.29 589.90,41.29" fill="#000" stroke="#000" stroke-width="0.6" stroke-linejoin="round"/>
<polygon points="603.60,34.29 610.60,34.29 607.10,41.29" fill="#000" stroke="#000" stroke-width="0.6" stroke-linejoin="round"/>
<line x1="384.70" y1="198.60" x2="415.70" y2="198.60" stroke="#000" stroke-width="1.4" />
<circle cx="399.80" cy="198.60" r="3.0" fill="#000" stroke="#000" stroke-width="1.2"/>
<text x="422.60" y="203.30" font-size="13.7" text-anchor="start" font-weight="normal" >+/+ (n=9)</text>
<line x1="384.70" y1="215.30" x2="415.70" y2="215.30" stroke="#000" stroke-width="1.4" />
<circle cx="399.80" cy="215.30" r="3.3" fill="#fff" stroke="#000" stroke-width="1.2"/>
<text x="422.60" y="220.00" font-size="13.7" text-anchor="start" font-weight="normal" >+/- (n=11)</text>
<line x1="384.70" y1="232.00" x2="415.70" y2="232.00" stroke="#000" stroke-width="1.4" />
<polygon points="396.30,229.48 403.30,229.48 399.80,236.48" fill="#000" stroke="#000" stroke-width="0.6" stroke-linejoin="round"/>
<text x="422.60" y="236.70" font-size="13.7" text-anchor="start" font-weight="normal" >-/- (n=8)</text>
<rect x="52.3" y="318.1" width="242.59999999999997" height="242.19999999999993" fill="none" stroke="#000" stroke-width="1.5"/>
<line x1="47.30" y1="548.20" x2="52.30" y2="548.20" stroke="#000" stroke-width="1.5" />
<text x="33.7" y="553.30" font-size="15.2" text-anchor="end">10</text>
<text x="34.3" y="548.60" font-size="10.5" text-anchor="start">0</text>
<line x1="47.30" y1="471.50" x2="52.30" y2="471.50" stroke="#000" stroke-width="1.5" />
<text x="33.7" y="476.60" font-size="15.2" text-anchor="end">10</text>
<text x="34.3" y="471.90" font-size="10.5" text-anchor="start">1</text>
<line x1="47.30" y1="394.80" x2="52.30" y2="394.80" stroke="#000" stroke-width="1.5" />
<text x="33.7" y="399.90" font-size="15.2" text-anchor="end">10</text>
<text x="34.3" y="395.20" font-size="10.5" text-anchor="start">2</text>
<line x1="47.30" y1="318.10" x2="52.30" y2="318.10" stroke="#000" stroke-width="1.5" />
<text x="33.7" y="323.20" font-size="15.2" text-anchor="end">10</text>
<text x="34.3" y="318.50" font-size="10.5" text-anchor="start">3</text>
<line x1="52.30" y1="560.30" x2="52.30" y2="564.10" stroke="#000" stroke-width="1.5" />
<text x="52.30" y="585.50" font-size="16" text-anchor="middle" font-weight="normal" >30</text>
<line x1="89.60" y1="560.30" x2="89.60" y2="564.10" stroke="#000" stroke-width="1.5" />
<text x="89.60" y="585.50" font-size="16" text-anchor="middle" font-weight="normal" >40</text>
<line x1="126.90" y1="560.30" x2="126.90" y2="564.10" stroke="#000" stroke-width="1.5" />
<text x="126.90" y="585.50" font-size="16" text-anchor="middle" font-weight="normal" >50</text>
<line x1="164.20" y1="560.30" x2="164.20" y2="564.10" stroke="#000" stroke-width="1.5" />
<text x="164.20" y="585.50" font-size="16" text-anchor="middle" font-weight="normal" >60</text>
<line x1="201.50" y1="560.30" x2="201.50" y2="564.10" stroke="#000" stroke-width="1.5" />
<text x="201.50" y="585.50" font-size="16" text-anchor="middle" font-weight="normal" >70</text>
<line x1="238.80" y1="560.30" x2="238.80" y2="564.10" stroke="#000" stroke-width="1.5" />
<text x="238.80" y="585.50" font-size="16" text-anchor="middle" font-weight="normal" >80</text>
<line x1="276.10" y1="560.30" x2="276.10" y2="564.10" stroke="#000" stroke-width="1.5" />
<text x="276.10" y="585.50" font-size="16" text-anchor="middle" font-weight="normal" >90</text>
<text x="173.60" y="604.50" font-size="15.7" text-anchor="middle" font-weight="normal" >Stimulus Intensity (dB SPL)</text>
<text transform="translate(14,439.5) rotate(-90)" font-size="15.7" text-anchor="middle">Cochlear Microphonic (&#181;V p-p)</text>
<text x="2.80" y="316.40" font-size="19" text-anchor="start" font-weight="bold" >c</text>
<line x1="60.00" y1="552.80" x2="287.80" y2="552.80" stroke="#000" stroke-width="1.4" />
<line x1="59.1" y1="504" x2="287.8" y2="504" stroke="#000" stroke-width="1.8" stroke-dasharray="1.7,1.5"/>
<line x1="71.00" y1="480.90" x2="71.00" y2="492.70" stroke="#000" stroke-width="1.3" />
<line x1="66.50" y1="480.90" x2="75.50" y2="480.90" stroke="#000" stroke-width="1.3" />
<line x1="66.50" y1="492.70" x2="75.50" y2="492.70" stroke="#000" stroke-width="1.3" />
<line x1="89.60" y1="465.90" x2="89.60" y2="476.60" stroke="#000" stroke-width="1.3" />
<line x1="85.10" y1="465.90" x2="94.10" y2="465.90" stroke="#000" stroke-width="1.3" />
<line x1="85.10" y1="476.60" x2="94.10" y2="476.60" stroke="#000" stroke-width="1.3" />
<line x1="108.80" y1="442.70" x2="108.80" y2="456.40" stroke="#000" stroke-width="1.3" />
<line x1="104.30" y1="442.70" x2="113.30" y2="442.70" stroke="#000" stroke-width="1.3" />
<line x1="104.30" y1="456.40" x2="113.30" y2="456.40" stroke="#000" stroke-width="1.3" />
<line x1="127.30" y1="425.50" x2="127.30" y2="439.90" stroke="#000" stroke-width="1.3" />
<line x1="122.80" y1="425.50" x2="131.80" y2="425.50" stroke="#000" stroke-width="1.3" />
<line x1="122.80" y1="439.90" x2="131.80" y2="439.90" stroke="#000" stroke-width="1.3" />
<line x1="145.70" y1="408.70" x2="145.70" y2="423.50" stroke="#000" stroke-width="1.3" />
<line x1="141.20" y1="408.70" x2="150.20" y2="408.70" stroke="#000" stroke-width="1.3" />
<line x1="141.20" y1="423.50" x2="150.20" y2="423.50" stroke="#000" stroke-width="1.3" />
<line x1="164.30" y1="392.70" x2="164.30" y2="407.80" stroke="#000" stroke-width="1.3" />
<line x1="159.80" y1="392.70" x2="168.80" y2="392.70" stroke="#000" stroke-width="1.3" />
<line x1="159.80" y1="407.80" x2="168.80" y2="407.80" stroke="#000" stroke-width="1.3" />
<line x1="183.20" y1="379.90" x2="183.20" y2="395.90" stroke="#000" stroke-width="1.3" />
<line x1="178.70" y1="379.90" x2="187.70" y2="379.90" stroke="#000" stroke-width="1.3" />
<line x1="178.70" y1="395.90" x2="187.70" y2="395.90" stroke="#000" stroke-width="1.3" />
<line x1="201.60" y1="369.60" x2="201.60" y2="386.00" stroke="#000" stroke-width="1.3" />
<line x1="197.10" y1="369.60" x2="206.10" y2="369.60" stroke="#000" stroke-width="1.3" />
<line x1="197.10" y1="386.00" x2="206.10" y2="386.00" stroke="#000" stroke-width="1.3" />
<line x1="220.10" y1="361.50" x2="220.10" y2="377.80" stroke="#000" stroke-width="1.3" />
<line x1="215.60" y1="361.50" x2="224.60" y2="361.50" stroke="#000" stroke-width="1.3" />
<line x1="215.60" y1="377.80" x2="224.60" y2="377.80" stroke="#000" stroke-width="1.3" />
<line x1="238.90" y1="356.90" x2="238.90" y2="374.20" stroke="#000" stroke-width="1.3" />
<line x1="234.40" y1="356.90" x2="243.40" y2="356.90" stroke="#000" stroke-width="1.3" />
<line x1="234.40" y1="374.20" x2="243.40" y2="374.20" stroke="#000" stroke-width="1.3" />
<line x1="257.50" y1="355.00" x2="257.50" y2="373.40" stroke="#000" stroke-width="1.3" />
<line x1="253.00" y1="355.00" x2="262.00" y2="355.00" stroke="#000" stroke-width="1.3" />
<line x1="253.00" y1="373.40" x2="262.00" y2="373.40" stroke="#000" stroke-width="1.3" />
<line x1="276.40" y1="356.10" x2="276.40" y2="375.00" stroke="#000" stroke-width="1.3" />
<line x1="271.90" y1="356.10" x2="280.90" y2="356.10" stroke="#000" stroke-width="1.3" />
<line x1="271.90" y1="375.00" x2="280.90" y2="375.00" stroke="#000" stroke-width="1.3" />
<line x1="70.90" y1="541.10" x2="70.90" y2="560.30" stroke="#000" stroke-width="1.3" />
<line x1="66.40" y1="541.10" x2="75.40" y2="541.10" stroke="#000" stroke-width="1.3" />
<line x1="66.40" y1="560.30" x2="75.40" y2="560.30" stroke="#000" stroke-width="1.3" />
<line x1="89.40" y1="541.10" x2="89.40" y2="560.30" stroke="#000" stroke-width="1.3" />
<line x1="84.90" y1="541.10" x2="93.90" y2="541.10" stroke="#000" stroke-width="1.3" />
<line x1="84.90" y1="560.30" x2="93.90" y2="560.30" stroke="#000" stroke-width="1.3" />
<line x1="108.20" y1="541.10" x2="108.20" y2="560.30" stroke="#000" stroke-width="1.3" />
<line x1="103.70" y1="541.10" x2="112.70" y2="541.10" stroke="#000" stroke-width="1.3" />
<line x1="103.70" y1="560.30" x2="112.70" y2="560.30" stroke="#000" stroke-width="1.3" />
<line x1="127.20" y1="541.10" x2="127.20" y2="560.30" stroke="#000" stroke-width="1.3" />
<line x1="122.70" y1="541.10" x2="131.70" y2="541.10" stroke="#000" stroke-width="1.3" />
<line x1="122.70" y1="560.30" x2="131.70" y2="560.30" stroke="#000" stroke-width="1.3" />
<line x1="145.60" y1="541.10" x2="145.60" y2="560.30" stroke="#000" stroke-width="1.3" />
<line x1="141.10" y1="541.10" x2="150.10" y2="541.10" stroke="#000" stroke-width="1.3" />
<line x1="141.10" y1="560.30" x2="150.10" y2="560.30" stroke="#000" stroke-width="1.3" />
<line x1="164.40" y1="540.60" x2="164.40" y2="560.30" stroke="#000" stroke-width="1.3" />
<line x1="159.90" y1="540.60" x2="168.90" y2="540.60" stroke="#000" stroke-width="1.3" />
<line x1="159.90" y1="560.30" x2="168.90" y2="560.30" stroke="#000" stroke-width="1.3" />
<line x1="183.20" y1="539.30" x2="183.20" y2="560.30" stroke="#000" stroke-width="1.3" />
<line x1="178.70" y1="539.30" x2="187.70" y2="539.30" stroke="#000" stroke-width="1.3" />
<line x1="178.70" y1="560.30" x2="187.70" y2="560.30" stroke="#000" stroke-width="1.3" />
<line x1="201.50" y1="537.40" x2="201.50" y2="558.80" stroke="#000" stroke-width="1.3" />
<line x1="197.00" y1="537.40" x2="206.00" y2="537.40" stroke="#000" stroke-width="1.3" />
<line x1="197.00" y1="558.80" x2="206.00" y2="558.80" stroke="#000" stroke-width="1.3" />
<line x1="220.10" y1="534.40" x2="220.10" y2="552.40" stroke="#000" stroke-width="1.3" />
<line x1="215.60" y1="534.40" x2="224.60" y2="534.40" stroke="#000" stroke-width="1.3" />
<line x1="215.60" y1="552.40" x2="224.60" y2="552.40" stroke="#000" stroke-width="1.3" />
<line x1="238.80" y1="528.80" x2="238.80" y2="545.60" stroke="#000" stroke-width="1.3" />
<line x1="234.30" y1="528.80" x2="243.30" y2="528.80" stroke="#000" stroke-width="1.3" />
<line x1="234.30" y1="545.60" x2="243.30" y2="545.60" stroke="#000" stroke-width="1.3" />
<line x1="257.60" y1="520.30" x2="257.60" y2="535.80" stroke="#000" stroke-width="1.3" />
<line x1="253.10" y1="520.30" x2="262.10" y2="520.30" stroke="#000" stroke-width="1.3" />
<line x1="253.10" y1="535.80" x2="262.10" y2="535.80" stroke="#000" stroke-width="1.3" />
<line x1="276.20" y1="510.20" x2="276.20" y2="525.20" stroke="#000" stroke-width="1.3" />
<line x1="271.70" y1="510.20" x2="280.70" y2="510.20" stroke="#000" stroke-width="1.3" />
<line x1="271.70" y1="525.20" x2="280.70" y2="525.20" stroke="#000" stroke-width="1.3" />
<polyline points="71.00,486.50 89.60,470.50 108.80,448.60 127.30,431.70 145.70,415.30 164.30,399.60 183.20,386.50 201.60,377.00 220.10,368.40 238.90,364.30 257.50,363.20 276.40,364.30" fill="none" stroke="#000" stroke-width="1.4" stroke-linejoin="round"/>
<polyline points="70.90,553.00 89.40,553.00 108.20,553.00 127.20,553.00 145.60,552.50 164.40,551.50 183.20,549.30 201.50,546.70 220.10,542.30 238.80,537.00 257.60,527.80 276.20,517.30" fill="none" stroke="#000" stroke-width="1.4" stroke-linejoin="round"/>
<circle cx="71.00" cy="486.50" r="3.25" fill="#000" stroke="#000" stroke-width="1.2"/>
<circle cx="89.60" cy="470.50" r="3.25" fill="#000" stroke="#000" stroke-width="1.2"/>
<circle cx="108.80" cy="448.60" r="3.25" fill="#000" stroke="#000" stroke-width="1.2"/>
<circle cx="127.30" cy="431.70" r="3.25" fill="#000" stroke="#000" stroke-width="1.2"/>
<circle cx="145.70" cy="415.30" r="3.25" fill="#000" stroke="#000" stroke-width="1.2"/>
<circle cx="164.30" cy="399.60" r="3.25" fill="#000" stroke="#000" stroke-width="1.2"/>
<circle cx="183.20" cy="386.50" r="3.25" fill="#000" stroke="#000" stroke-width="1.2"/>
<circle cx="201.60" cy="377.00" r="3.25" fill="#000" stroke="#000" stroke-width="1.2"/>
<circle cx="220.10" cy="368.40" r="3.25" fill="#000" stroke="#000" stroke-width="1.2"/>
<circle cx="238.90" cy="364.30" r="3.25" fill="#000" stroke="#000" stroke-width="1.2"/>
<circle cx="257.50" cy="363.20" r="3.25" fill="#000" stroke="#000" stroke-width="1.2"/>
<circle cx="276.40" cy="364.30" r="3.25" fill="#000" stroke="#000" stroke-width="1.2"/>
<polygon points="66.95,550.52 74.85,550.52 70.90,557.42" fill="#000" stroke="#000" stroke-width="0.6" stroke-linejoin="round"/>
<polygon points="85.45,550.52 93.35,550.52 89.40,557.42" fill="#000" stroke="#000" stroke-width="0.6" stroke-linejoin="round"/>
<polygon points="104.25,550.52 112.15,550.52 108.20,557.42" fill="#000" stroke="#000" stroke-width="0.6" stroke-linejoin="round"/>
<polygon points="123.25,550.52 131.15,550.52 127.20,557.42" fill="#000" stroke="#000" stroke-width="0.6" stroke-linejoin="round"/>
<polygon points="141.65,550.02 149.55,550.02 145.60,556.92" fill="#000" stroke="#000" stroke-width="0.6" stroke-linejoin="round"/>
<polygon points="160.45,549.02 168.35,549.02 164.40,555.92" fill="#000" stroke="#000" stroke-width="0.6" stroke-linejoin="round"/>
<polygon points="179.25,546.82 187.15,546.82 183.20,553.72" fill="#000" stroke="#000" stroke-width="0.6" stroke-linejoin="round"/>
<polygon points="197.55,544.22 205.45,544.22 201.50,551.12" fill="#000" stroke="#000" stroke-width="0.6" stroke-linejoin="round"/>
<polygon points="216.15,539.82 224.05,539.82 220.10,546.72" fill="#000" stroke="#000" stroke-width="0.6" stroke-linejoin="round"/>
<polygon points="234.85,534.52 242.75,534.52 238.80,541.42" fill="#000" stroke="#000" stroke-width="0.6" stroke-linejoin="round"/>
<polygon points="253.65,525.32 261.55,525.32 257.60,532.22" fill="#000" stroke="#000" stroke-width="0.6" stroke-linejoin="round"/>
<polygon points="272.25,514.82 280.15,514.82 276.20,521.72" fill="#000" stroke="#000" stroke-width="0.6" stroke-linejoin="round"/>
<polygon points="71.65,466.25 72.64,467.78 74.55,468.15 73.25,469.47 73.44,471.22 71.65,470.51 69.86,471.22 70.05,469.47 68.75,468.15 70.66,467.78" fill="#000"/>
<polygon points="89.15,451.25 90.14,452.78 92.05,453.15 90.75,454.47 90.94,456.22 89.15,455.51 87.36,456.22 87.55,454.47 86.25,453.15 88.16,452.78" fill="#000"/>
<polygon points="108.45,427.56 109.44,429.08 111.35,429.45 110.05,430.77 110.24,432.52 108.45,431.81 106.66,432.52 106.85,430.77 105.55,429.45 107.46,429.08" fill="#000"/>
<polygon points="127.45,410.75 128.44,412.28 130.35,412.65 129.05,413.97 129.24,415.72 127.45,415.01 125.66,415.72 125.85,413.97 124.55,412.65 126.46,412.28" fill="#000"/>
<polygon points="145.95,394.15 146.94,395.68 148.85,396.05 147.55,397.37 147.74,399.12 145.95,398.41 144.16,399.12 144.35,397.37 143.05,396.05 144.96,395.68" fill="#000"/>
<polygon points="164.25,377.85 165.24,379.38 167.15,379.75 165.85,381.07 166.04,382.82 164.25,382.11 162.46,382.82 162.65,381.07 161.35,379.75 163.26,379.38" fill="#000"/>
<polygon points="183.45,365.45 184.44,366.98 186.35,367.35 185.05,368.67 185.24,370.42 183.45,369.71 181.66,370.42 181.85,368.67 180.55,367.35 182.46,366.98" fill="#000"/>
<polygon points="201.75,355.56 202.74,357.08 204.65,357.45 203.35,358.77 203.54,360.52 201.75,359.81 199.96,360.52 200.15,358.77 198.85,357.45 200.76,357.08" fill="#000"/>
<polygon points="220.45,346.65 221.44,348.18 223.35,348.55 222.05,349.87 222.24,351.62 220.45,350.91 218.66,351.62 218.85,349.87 217.55,348.55 219.46,348.18" fill="#000"/>
<polygon points="239.05,342.45 240.04,343.98 241.95,344.35 240.65,345.67 240.84,347.42 239.05,346.71 237.26,347.42 237.45,345.67 236.15,344.35 238.06,343.98" fill="#000"/>
<polygon points="257.75,340.95 258.74,342.48 260.65,342.85 259.35,344.17 259.54,345.92 257.75,345.21 255.96,345.92 256.15,344.17 254.85,342.85 256.76,342.48" fill="#000"/>
<polygon points="276.45,342.06 277.44,343.58 279.35,343.95 278.05,345.27 278.24,347.02 276.45,346.31 274.66,347.02 274.85,345.27 273.55,343.95 275.46,343.58" fill="#000"/>
<polyline points="84.60,482.08 85.20,482.57 85.80,482.29 86.40,482.67 87.00,482.70 87.60,481.80 88.20,481.72 88.80,483.04 89.40,482.11 90.00,482.07 90.60,483.29 91.20,482.45 91.80,483.04 92.40,482.46 93.00,482.72 93.60,481.94 94.20,482.72 94.80,483.09 95.40,482.54 96.00,482.89 96.60,482.77 97.20,481.80 97.80,482.91 98.40,482.65 99.00,482.18 99.60,481.75 100.20,483.08 100.80,482.46 101.40,482.85 102.00,483.11 102.60,482.84 103.20,483.17 103.80,482.33 104.40,482.98 105.00,482.41 105.60,483.20 106.20,483.11 106.80,481.86 107.40,481.92 108.00,482.05 108.60,483.24 109.20,482.40 109.80,482.70 110.40,482.18 111.00,482.51 111.60,482.32 112.20,482.26 112.80,482.64 113.40,482.63 114.00,483.15 114.60,482.79 115.20,483.19 115.80,483.07 116.40,483.29 117.00,482.77 117.60,481.96 118.20,483.08 118.80,483.24 119.40,483.15 120.00,482.61 120.60,482.84 121.20,482.04 121.80,483.03 122.40,482.62 123.00,482.16 123.60,481.80 124.20,483.07 124.80,483.28 125.40,481.84 126.00,482.98 126.60,482.36 127.20,481.94 127.80,482.17 128.40,482.93 129.00,483.10 129.60,481.77 130.20,482.68 130.80,481.77 131.40,482.85 132.00,482.23 132.60,483.11 133.20,483.27 133.80,482.51 134.40,483.30 135.00,482.20 135.60,481.82 136.20,482.66 136.80,481.75 137.40,482.02 138.00,482.35 138.60,482.68 139.20,481.95 139.80,481.77 140.40,483.09 141.00,482.20 141.60,483.23 142.20,483.13" fill="none" stroke="#111" stroke-width="1.5" stroke-linejoin="round"/>
<rect x="152.70" y="431.44" width="30.20" height="4.93" fill="#666"/>
<polyline points="146.20,433.78 146.80,433.86 147.40,433.92 148.00,434.04 148.60,434.00 149.20,433.96 149.80,434.02 150.40,434.34 151.00,433.91 151.60,433.83 152.20,434.12 152.20,436.80 152.40,436.80 152.60,436.39 152.80,435.31 153.00,434.24 153.20,433.16 153.40,432.08 153.60,431.01 153.80,431.00 154.00,431.00 154.20,431.00 154.40,431.82 154.60,432.89 154.80,433.97 155.00,435.04 155.20,436.12 155.40,436.80 155.60,436.80 155.80,436.80 156.00,436.66 156.20,435.58 156.40,434.51 156.60,433.43 156.80,432.35 157.00,431.28 157.20,431.00 157.40,431.00 157.60,431.00 157.80,431.55 158.00,432.62 158.20,433.70 158.40,434.77 158.60,435.85 158.80,436.80 159.00,436.80 159.20,436.80 159.40,436.80 159.60,435.85 159.80,434.77 160.00,433.70 160.20,432.62 160.40,431.55 160.60,431.00 160.80,431.00 161.00,431.00 161.20,431.28 161.40,432.35 161.60,433.43 161.80,434.51 162.00,435.58 162.20,436.66 162.40,436.80 162.60,436.80 162.80,436.80 163.00,436.12 163.20,435.04 163.40,433.97 163.60,432.89 163.80,431.82 164.00,431.00 164.20,431.00 164.40,431.00 164.60,431.01 164.80,432.08 165.00,433.16 165.20,434.24 165.40,435.31 165.60,436.39 165.80,436.80 166.00,436.80 166.20,436.80 166.40,436.39 166.60,435.31 166.80,434.24 167.00,433.16 167.20,432.08 167.40,431.01 167.60,431.00 167.80,431.00 168.00,431.00 168.20,431.82 168.40,432.89 168.60,433.97 168.80,435.04 169.00,436.12 169.20,436.80 169.40,436.80 169.60,436.80 169.80,436.66 170.00,435.58 170.20,434.51 170.40,433.43 170.60,432.35 170.80,431.28 171.00,431.00 171.20,431.00 171.40,431.00 171.60,431.55 171.80,432.62 172.00,433.70 172.20,434.77 172.40,435.85 172.60,436.80 172.80,436.80 173.00,436.80 173.20,436.80 173.40,435.85 173.60,434.77 173.80,433.70 174.00,432.62 174.20,431.55 174.40,431.00 174.60,431.00 174.80,431.00 175.00,431.28 175.20,432.35 175.40,433.43 175.60,434.51 175.80,435.58 176.00,436.66 176.20,436.80 176.40,436.80 176.60,436.80 176.80,436.12 177.00,435.04 177.20,433.97 177.40,432.89 177.60,431.82 177.80,431.00 178.00,431.00 178.20,431.00 178.40,431.01 178.60,432.08 178.80,433.16 179.00,434.24 179.20,435.31 179.40,436.39 179.60,436.80 179.80,436.80 180.00,436.80 180.20,436.39 180.40,435.31 180.60,434.24 180.80,433.16 181.00,432.08 181.20,431.01 181.40,431.00 181.60,431.00 181.80,431.00 182.00,431.82 182.20,432.89 182.40,433.97 182.60,435.04 182.80,436.12 183.00,436.80 183.20,436.80 183.40,436.80" fill="none" stroke="#111" stroke-width="1.8" stroke-linejoin="round"/>
<polyline points="183.40,433.59 184.00,433.66 184.60,434.47 185.20,433.93 185.80,433.96 186.40,433.31 187.00,433.80 187.60,434.00 188.20,433.32 188.80,434.04 189.40,434.06 190.00,433.37 190.60,434.05 191.20,433.86 191.80,434.12 192.40,433.72 193.00,434.15 193.60,434.19 194.20,433.33 194.80,433.37 195.40,434.11 196.00,434.46 196.60,433.60 197.20,433.85 197.80,434.01 198.40,433.68 199.00,433.74 199.60,433.68 200.20,433.74 200.80,434.01 201.40,433.66 202.00,433.75 202.60,434.23 203.20,433.33 203.80,433.98" fill="none" stroke="#444" stroke-width="1.1" stroke-linejoin="round"/>
<polyline points="148.50,430.90 149.00,437.90 149.50,428.90 150.00,439.90 150.50,428.90 151.00,437.90 151.50,430.90 152.00,435.90 152.50,432.90" fill="none" stroke="#777" stroke-width="1.2" stroke-linejoin="round"/>
<rect x="240.70" y="393.91" width="31.00" height="12.58" fill="#666"/>
<polyline points="233.20,400.44 233.80,400.01 234.40,399.92 235.00,400.50 235.60,399.94 236.20,399.89 236.80,400.14 237.40,400.40 238.00,399.80 238.60,400.02 239.20,400.03 239.80,400.53 240.20,407.60 240.40,407.60 240.60,407.60 240.80,405.79 241.00,403.71 241.20,401.63 241.40,399.55 241.60,397.47 241.80,395.39 242.00,393.30 242.20,392.80 242.40,392.80 242.60,392.80 242.80,392.80 243.00,393.82 243.20,395.91 243.40,397.99 243.60,400.07 243.80,402.15 244.00,404.23 244.20,406.32 244.40,407.60 244.60,407.60 244.80,407.60 245.00,407.60 245.20,407.36 245.40,405.27 245.60,403.19 245.80,401.11 246.00,399.03 246.20,396.95 246.40,394.87 246.60,392.80 246.80,392.80 247.00,392.80 247.20,392.80 247.40,392.80 247.60,394.35 247.80,396.43 248.00,398.51 248.20,400.59 248.40,402.67 248.60,404.75 248.80,406.84 249.00,407.60 249.20,407.60 249.40,407.60 249.60,407.60 249.80,406.84 250.00,404.75 250.20,402.67 250.40,400.59 250.60,398.51 250.80,396.43 251.00,394.35 251.20,392.80 251.40,392.80 251.60,392.80 251.80,392.80 252.00,392.80 252.20,394.87 252.40,396.95 252.60,399.03 252.80,401.11 253.00,403.19 253.20,405.27 253.40,407.36 253.60,407.60 253.80,407.60 254.00,407.60 254.20,407.60 254.40,406.32 254.60,404.23 254.80,402.15 255.00,400.07 255.20,397.99 255.40,395.91 255.60,393.82 255.80,392.80 256.00,392.80 256.20,392.80 256.40,392.80 256.60,393.30 256.80,395.39 257.00,397.47 257.20,399.55 257.40,401.63 257.60,403.71 257.80,405.79 258.00,407.60 258.20,407.60 258.40,407.60 258.60,407.60 258.80,407.60 259.00,405.79 259.20,403.71 259.40,401.63 259.60,399.55 259.80,397.47 260.00,395.39 260.20,393.30 260.40,392.80 260.60,392.80 260.80,392.80 261.00,392.80 261.20,393.82 261.40,395.91 261.60,397.99 261.80,400.07 262.00,402.15 262.20,404.23 262.40,406.32 262.60,407.60 262.80,407.60 263.00,407.60 263.20,407.60 263.40,407.36 263.60,405.27 263.80,403.19 264.00,401.11 264.20,399.03 264.40,396.95 264.60,394.87 264.80,392.80 265.00,392.80 265.20,392.80 265.40,392.80 265.60,392.80 265.80,394.35 266.00,396.43 266.20,398.51 266.40,400.59 266.60,402.67 266.80,404.75 267.00,406.84 267.20,407.60 267.40,407.60 267.60,407.60 267.80,407.60 268.00,406.84 268.20,404.75 268.40,402.67 268.60,400.59 268.80,398.51 269.00,396.43 269.20,394.35 269.40,392.80 269.60,392.80 269.80,392.80 270.00,392.80 270.20,392.80 270.40,394.87 270.60,396.95 270.80,399.03 271.00,401.11 271.20,403.19 271.40,405.27 271.60,407.36 271.80,407.60 272.00,407.60 272.20,407.60" fill="none" stroke="#111" stroke-width="2.2" stroke-linejoin="round"/>
<polyline points="272.20,400.13 272.80,400.63 273.40,399.80 274.00,400.00 274.60,400.38 275.20,400.66 275.80,400.14 276.40,399.87 277.00,399.75 277.60,400.24 278.20,399.83 278.80,400.57 279.40,400.61 280.00,399.82 280.60,399.93 281.20,400.57 281.80,400.37 282.40,400.57 283.00,400.01 283.60,399.76 284.20,399.95 284.80,400.55 285.40,399.93 286.00,400.02 286.60,400.10 287.20,400.10 287.80,400.09 288.40,400.70 289.00,399.79 289.60,399.61 290.20,400.73 290.80,400.66 291.40,400.78" fill="none" stroke="#444" stroke-width="1.1" stroke-linejoin="round"/>
<polyline points="236.20,393.20 236.70,409.53 237.20,388.53 237.70,414.20 238.20,388.53 238.70,409.53 239.20,393.20 239.70,404.87 240.20,397.87" fill="none" stroke="#777" stroke-width="1.2" stroke-linejoin="round"/>
<polyline points="84.60,517.39 85.20,518.22 85.80,518.18 86.40,517.06 87.00,517.89 87.60,518.04 88.20,517.76 88.80,517.53 89.40,517.16 90.00,517.25 90.60,517.06 91.20,516.81 91.80,517.64 92.40,517.16 93.00,518.00 93.60,516.77 94.20,518.15 94.80,517.81 95.40,518.18 96.00,518.13 96.60,518.14 97.20,517.62 97.80,516.72 98.40,517.89 99.00,516.97 99.60,517.18 100.20,517.76 100.80,517.54 101.40,517.36 102.00,518.20 102.60,517.68 103.20,517.25 103.80,517.10 104.40,518.08 105.00,517.46 105.60,517.95 106.20,517.26 106.80,517.02 107.40,517.56 108.00,518.01 108.60,516.97 109.20,517.97 109.80,518.17 110.40,517.99 111.00,518.02 111.60,516.71 112.20,517.71 112.80,518.08 113.40,516.78 114.00,517.13 114.60,517.13 115.20,517.54 115.80,517.38 116.40,517.46 117.00,517.94 117.60,516.70 118.20,516.79 118.80,516.90 119.40,516.90 120.00,516.81 120.60,518.26 121.20,518.07 121.80,516.84 122.40,517.50 123.00,517.21 123.60,517.20 124.20,517.26 124.80,517.74 125.40,517.64 126.00,517.28 126.60,517.01 127.20,517.23 127.80,516.90 128.40,517.59 129.00,517.85 129.60,517.31 130.20,516.83 130.80,516.99 131.40,517.30 132.00,517.67 132.60,517.95 133.20,517.31 133.80,517.98 134.40,517.70 135.00,517.39 135.60,517.30 136.20,517.49 136.80,517.82 137.40,517.37 138.00,517.81 138.60,517.44 139.20,517.09 139.80,517.56 140.40,517.81 141.00,516.81 141.60,517.38" fill="none" stroke="#111" stroke-width="1.5" stroke-linejoin="round"/>
<polyline points="150.30,516.08 150.90,516.81 151.50,516.90 152.10,516.00 152.70,516.84 153.30,516.67 153.90,515.82 154.50,516.14 155.10,515.60 155.70,516.70 156.30,516.46 156.90,516.82 157.50,516.67 158.10,516.47 158.70,516.57 159.30,516.30 159.90,515.57 160.50,516.34 161.10,515.41 161.70,515.63 162.30,516.64 162.90,515.47 163.50,515.55 164.10,515.56 164.70,516.81 165.30,515.69 165.90,515.44 166.50,516.75 167.10,515.59 167.70,516.75 168.30,516.48 168.90,516.74 169.50,516.92 170.10,516.33 170.70,516.68 171.30,515.46 171.90,516.63 172.50,516.22 173.10,516.54 173.70,515.57 174.30,516.60 174.90,516.90 175.50,515.50 176.10,515.92 176.70,516.30 177.30,516.72 177.90,515.79 178.50,515.69 179.10,515.80 179.70,516.39 180.30,516.61 180.90,516.03 181.50,515.99 182.10,516.03 182.70,515.96 183.30,516.07 183.90,515.53 184.50,516.20 185.10,516.96 185.70,516.06 186.30,516.60 186.90,515.66 187.50,516.51 188.10,516.61 188.70,516.48 189.30,516.23 189.90,516.17 190.50,516.43 191.10,516.84 191.70,515.64 192.30,515.55 192.90,516.60 193.50,516.87 194.10,516.23 194.70,516.11 195.30,516.55 195.90,515.70 196.50,515.83 197.10,515.72 197.70,516.34 198.30,515.90 198.90,515.77 199.50,516.51 200.10,516.93 200.70,515.87 201.30,516.53 201.90,516.06 202.50,516.77 203.10,516.34 203.70,515.83 204.30,515.75 204.90,515.44 205.50,516.17 206.10,516.01 206.70,515.68 207.30,515.98 207.90,515.92 208.50,516.64 209.10,515.63" fill="none" stroke="#111" stroke-width="1.5" stroke-linejoin="round"/>
<polyline points="226.60,496.79 227.20,495.97 227.80,496.16 228.40,495.95 229.00,496.54 229.60,496.51 230.20,496.09 230.80,495.97 231.40,496.35 232.00,496.57 232.60,495.84 233.20,496.37 233.80,496.74 234.40,495.95 235.00,495.57 235.60,495.58 236.20,496.35 236.80,496.28 237.40,496.73 238.00,496.57 238.60,495.59 239.20,495.50 239.80,495.61 240.40,495.50 241.00,496.33 241.60,496.57 242.20,496.64 242.80,495.61 243.40,496.58 244.00,495.70 244.60,495.88 245.20,496.37 245.80,495.34 246.40,495.35 247.00,496.53 247.60,495.67 248.20,495.77 248.80,496.13 249.40,496.28 250.00,495.21 250.60,495.74 251.20,495.90 251.80,495.98 252.40,495.54 253.00,496.14 253.60,496.73 254.20,495.83 254.80,496.07 255.40,495.39 256.00,495.64 256.60,496.26 257.20,495.38 257.80,496.62 258.40,496.65 259.00,495.36 259.60,496.71 260.20,495.80 260.80,496.44 261.40,496.41 262.00,495.67 262.60,496.28 263.20,496.25 263.80,496.49 264.40,495.62 265.00,496.41 265.60,496.74 266.20,496.28 266.80,496.06 267.40,495.38 268.00,495.99 268.60,495.76 269.20,496.35 269.80,496.29 270.40,496.11 271.00,495.49 271.60,496.23 272.20,496.21 272.80,495.49 273.40,496.62 274.00,496.25 274.60,495.40 275.20,496.69 275.80,495.43 276.40,495.73 277.00,496.35 277.60,496.16 278.20,496.09 278.80,496.24 279.40,495.93 280.00,495.70 280.60,495.48 281.20,495.31 281.80,496.35 282.40,496.41 283.00,496.07 283.60,496.38 284.20,495.77" fill="none" stroke="#111" stroke-width="1.5" stroke-linejoin="round"/>
<line x1="108.80" y1="477.20" x2="108.80" y2="462.80" stroke="#000" stroke-width="1.3" />
<polygon points="106.50,464.80 111.10,464.80 108.80,458.80" fill="#000"/>
<line x1="165.00" y1="428.80" x2="165.00" y2="415.50" stroke="#000" stroke-width="1.3" />
<polygon points="162.70,417.50 167.30,417.50 165.00,411.50" fill="#000"/>
<line x1="257.30" y1="388.20" x2="257.30" y2="379.30" stroke="#000" stroke-width="1.3" />
<polygon points="255.00,381.30 259.60,381.30 257.30,375.30" fill="#000"/>
<line x1="109.50" y1="522.90" x2="109.50" y2="533.20" stroke="#000" stroke-width="1.3" />
<polygon points="107.20,531.20 111.80,531.20 109.50,537.20" fill="#000"/>
<line x1="164.50" y1="521.40" x2="164.50" y2="531.60" stroke="#000" stroke-width="1.3" />
<polygon points="162.20,529.60 166.80,529.60 164.50,535.60" fill="#000"/>
<line x1="257.60" y1="502.00" x2="257.60" y2="510.90" stroke="#000" stroke-width="1.3" />
<polygon points="255.30,508.90 259.90,508.90 257.60,514.90" fill="#000"/>
<line x1="250.90" y1="422.00" x2="250.90" y2="438.60" stroke="#000" stroke-width="1.2" />
<line x1="250.30" y1="438.60" x2="260.80" y2="438.60" stroke="#000" stroke-width="1.2" />
<text x="253.40" y="430.80" font-size="11" text-anchor="start" font-weight="normal" >200 &#181;V</text>
<text x="253.40" y="449.30" font-size="11" text-anchor="start" font-weight="normal" >10 ms</text>
<line x1="60.00" y1="330.50" x2="91.00" y2="330.50" stroke="#000" stroke-width="1.4" />
<circle cx="75.20" cy="330.50" r="3.1" fill="#000" stroke="#000" stroke-width="1.2"/>
<text x="97.80" y="335.20" font-size="13.7" text-anchor="start" font-weight="normal" >+/+ (n=7)</text>
<line x1="60.00" y1="347.00" x2="91.00" y2="347.00" stroke="#000" stroke-width="1.4" />
<polygon points="71.25,344.52 79.15,344.52 75.20,351.42" fill="#000" stroke="#000" stroke-width="0.6" stroke-linejoin="round"/>
<text x="97.80" y="351.70" font-size="13.7" text-anchor="start" font-weight="normal" >-/- (n=7)</text>
<line x1="60.00" y1="363.50" x2="91.00" y2="363.50" stroke="#000" stroke-width="1.4" />
<text x="97.80" y="368.20" font-size="13.7" text-anchor="start" font-weight="normal" >NF</text>
<line x1="60" y1="380" x2="90.5" y2="380" stroke="#000" stroke-width="1.8" stroke-dasharray="1.7,1.5"/>
<text x="97.80" y="384.70" font-size="13.7" text-anchor="start" font-weight="normal" >NF+3SD</text>
<rect x="375.0" y="318.1" width="242.60000000000002" height="242.10000000000002" fill="none" stroke="#000" stroke-width="1.5"/>
<line x1="370.00" y1="559.96" x2="375.00" y2="559.96" stroke="#000" stroke-width="1.5" />
<text x="362.40" y="565.16" font-size="15.4" text-anchor="end" font-weight="normal" >-20</text>
<line x1="370.00" y1="525.40" x2="375.00" y2="525.40" stroke="#000" stroke-width="1.5" />
<text x="362.40" y="530.60" font-size="15.4" text-anchor="end" font-weight="normal" >0</text>
<line x1="370.00" y1="490.84" x2="375.00" y2="490.84" stroke="#000" stroke-width="1.5" />
<text x="362.40" y="496.04" font-size="15.4" text-anchor="end" font-weight="normal" >20</text>
<line x1="370.00" y1="456.28" x2="375.00" y2="456.28" stroke="#000" stroke-width="1.5" />
<text x="362.40" y="461.48" font-size="15.4" text-anchor="end" font-weight="normal" >40</text>
<line x1="370.00" y1="421.72" x2="375.00" y2="421.72" stroke="#000" stroke-width="1.5" />
<text x="362.40" y="426.92" font-size="15.4" text-anchor="end" font-weight="normal" >60</text>
<line x1="370.00" y1="387.16" x2="375.00" y2="387.16" stroke="#000" stroke-width="1.5" />
<text x="362.40" y="392.36" font-size="15.4" text-anchor="end" font-weight="normal" >80</text>
<line x1="370.00" y1="352.60" x2="375.00" y2="352.60" stroke="#000" stroke-width="1.5" />
<text x="362.40" y="357.80" font-size="15.4" text-anchor="end" font-weight="normal" >100</text>
<line x1="370.00" y1="318.04" x2="375.00" y2="318.04" stroke="#000" stroke-width="1.5" />
<text x="362.40" y="323.24" font-size="15.4" text-anchor="end" font-weight="normal" >120</text>
<line x1="435.50" y1="560.20" x2="435.50" y2="563.80" stroke="#000" stroke-width="1.5" />
<line x1="496.30" y1="560.20" x2="496.30" y2="563.80" stroke="#000" stroke-width="1.5" />
<line x1="557.30" y1="560.20" x2="557.30" y2="563.80" stroke="#000" stroke-width="1.5" />
<line x1="375.00" y1="560.20" x2="375.00" y2="563.60" stroke="#000" stroke-width="1.5" />
<rect x="414.3" y="351.5" width="43.0" height="22.899999999999977" fill="#808080" stroke="#333" stroke-width="1.5"/>
<line x1="414.30" y1="369.50" x2="457.30" y2="369.50" stroke="#282828" stroke-width="1.5" />
<rect x="475.2" y="344.7" width="42.599999999999966" height="20.30000000000001" fill="#808080" stroke="#333" stroke-width="1.5"/>
<line x1="475.20" y1="354.40" x2="517.80" y2="354.40" stroke="#282828" stroke-width="1.5" />
<rect x="535.1" y="517.2" width="43.60000000000002" height="8.5" fill="#808080" stroke="#333" stroke-width="1.5"/>
<polygon points="560.75,502.15 561.74,503.68 563.65,504.05 562.35,505.37 562.54,507.12 560.75,506.41 558.96,507.12 559.15,505.37 557.85,504.05 559.76,503.68" fill="#000"/>
<text x="438.00" y="550.20" font-size="16" text-anchor="middle" font-weight="normal" >n=5</text>
<text x="498.50" y="550.20" font-size="16" text-anchor="middle" font-weight="normal" >n=6</text>
<text x="560.00" y="550.20" font-size="16" text-anchor="middle" font-weight="normal" >n=6</text>
<text x="436.80" y="585.00" font-size="14" text-anchor="middle" font-weight="bold" letter-spacing="0.6">+/+</text>
<text x="497.50" y="585.00" font-size="14" text-anchor="middle" font-weight="bold" letter-spacing="0.6">+/-</text>
<text x="557.80" y="585.00" font-size="14" text-anchor="middle" font-weight="bold" letter-spacing="0.6">-/-</text>
<text x="497.50" y="604.80" font-size="15.7" text-anchor="middle" font-weight="normal" >Genotype</text>
<text transform="translate(334.2,438.5) rotate(-90)" font-size="15.7" text-anchor="middle">Endocochlear Potential (mV)</text>
<text x="321.60" y="317.00" font-size="19" text-anchor="start" font-weight="bold" >d</text>
</svg>
</body></html>
